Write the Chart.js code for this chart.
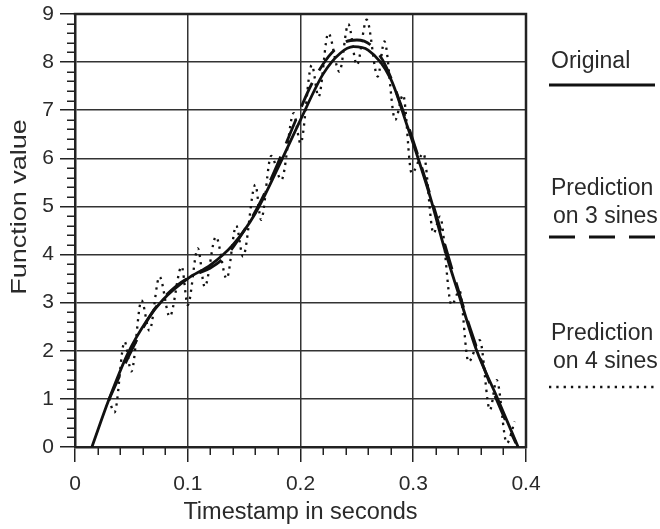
<!DOCTYPE html>
<html>
<head>
<meta charset="utf-8">
<script src="https://cdn.jsdelivr.net/npm/chart.js@4.4.1/dist/chart.umd.min.js"></script>
<style>
  html, body { margin: 0; padding: 0; background: #fff; }
  #c { display: block; }
</style>
</head>
<body>
<canvas id="c" width="660" height="529"></canvas>
<script>
// ---- data ----
const xTickLabels = ['0', '0.1', '0.2', '0.3', '0.4'];
const yTickLabels = ['0', '1', '2', '3', '4', '5', '6', '7', '8', '9'];

const originalX = [0.015, 0.030, 0.047, 0.064, 0.078, 0.100, 0.120, 0.140, 0.160, 0.180, 0.200, 0.220, 0.235, 0.247, 0.260, 0.280, 0.295, 0.305, 0.315, 0.328, 0.342, 0.356, 0.374, 0.393];
const originalY = [0.00, 0.98, 1.95, 2.64, 3.06, 3.50, 3.78, 4.20, 4.86, 5.80, 6.80, 7.75, 8.18, 8.32, 8.25, 7.65, 6.65, 5.95, 5.20, 4.10, 3.05, 2.02, 1.05, 0.00];

const sines3X = [0.030, 0.050, 0.070, 0.090, 0.105, 0.120, 0.135, 0.150, 0.165, 0.180, 0.195, 0.210, 0.225, 0.240, 0.250, 0.262, 0.275, 0.290, 0.305, 0.320, 0.335, 0.350, 0.365, 0.380, 0.391];
const sines3Y = [0.98, 2.00, 2.85, 3.35, 3.57, 3.72, 4.00, 4.50, 5.12, 5.90, 6.75, 7.55, 8.12, 8.42, 8.46, 8.36, 7.95, 7.05, 6.00, 4.85, 3.65, 2.50, 1.50, 0.65, 0.08];

const sines4X = [0.030, 0.035, 0.044, 0.050, 0.059, 0.066, 0.075, 0.084, 0.0946, 0.100, 0.109, 0.115, 0.125, 0.1345, 0.143, 0.149, 0.160, 0.165, 0.174, 0.183, 0.194, 0.200, 0.210, 0.216, 0.2247, 0.2345, 0.2424, 0.250, 0.2587, 0.2685, 0.2744, 0.284, 0.291, 0.2986, 0.309, 0.318, 0.3237, 0.334, 0.341, 0.349, 0.359, 0.368, 0.374, 0.383, 0.390];
const sines4Y = [1.00, 0.72, 2.19, 1.57, 3.05, 2.42, 3.54, 2.71, 3.75, 2.95, 4.13, 3.33, 4.37, 3.50, 4.60, 3.96, 5.45, 4.72, 6.05, 5.55, 6.94, 6.31, 7.94, 7.28, 8.60, 7.80, 8.79, 7.94, 8.88, 7.70, 8.43, 6.80, 7.32, 5.69, 6.10, 4.44, 4.79, 2.95, 3.25, 1.77, 2.22, 0.77, 1.39, 0.08, 0.53];

const seriesLabels = ['Original', 'Prediction\non 3 sines', 'Prediction\non 4 sines'];
const axisTitleX = 'Timestamp in seconds';
const axisTitleY = 'Function value';

const toPts = (xs, ys) => xs.map((x, i) => ({ x: x, y: ys[i] }));

const FONT = "'Liberation Sans', Arial, Helvetica, sans-serif";
const TEXT = '#2a2a2a';
const LINE = '#111';

const frameAndLegend = {
  id: 'frameAndLegend',
  afterDraw(chart) {
    const { ctx, chartArea: a, scales } = chart;
    const xs = scales.x, ys = scales.y;
    ctx.save();
    // top & right frame
    ctx.strokeStyle = '#222';
    ctx.lineWidth = 2.5;
    ctx.beginPath();
    ctx.moveTo(a.left - 1.25, a.top);
    ctx.lineTo(a.right, a.top);
    ctx.lineTo(a.right, a.bottom + 1.25);
    ctx.stroke();
    // minor ticks
    ctx.lineWidth = 1.5;
    ctx.beginPath();
    for (let i = 0; i <= 45; i++) {
      if (i % 5 === 0) continue;
      const py = Math.round(ys.getPixelForValue(i / 5)) + 0.25;
      ctx.moveTo(a.left - 8, py);
      ctx.lineTo(a.left, py);
    }
    for (let i = 0; i <= 20; i++) {
      if (i % 5 === 0) continue;
      const px = Math.round(xs.getPixelForValue(i * 0.02)) + 0.25;
      ctx.moveTo(px, a.bottom);
      ctx.lineTo(px, a.bottom + 8);
    }
    ctx.stroke();

    // y axis title (rotated, slightly widened as in the reference)
    ctx.save();
    ctx.translate(26, ys.getPixelForValue(4.99));
    ctx.rotate(-Math.PI / 2);
    ctx.scale(1.2, 1);
    ctx.fillStyle = TEXT;
    ctx.font = "22.5px " + FONT;
    ctx.textAlign = 'center';
    ctx.textBaseline = 'alphabetic';
    ctx.fillText(axisTitleY, 0, 0);
    ctx.restore();

    // legend (right side)
    const lx = 549, lw = 106;
    const entries = [
      { lines: seriesLabels[0].split('\n'), base: 68, sampleY: 85, ds: chart.data.datasets[0] },
      { lines: seriesLabels[1].split('\n'), base: 195, sampleY: 237, ds: chart.data.datasets[1] },
      { lines: seriesLabels[2].split('\n'), base: 340, sampleY: 387, ds: chart.data.datasets[2] }
    ];
    ctx.fillStyle = TEXT;
    ctx.font = "23px " + FONT;
    ctx.textBaseline = 'alphabetic';
    ctx.textAlign = 'left';
    entries.forEach(e => {
      e.lines.forEach((t, k) => {
        ctx.fillText(t, lx + (k === 0 ? 2 : 4), e.base + k * 28);
      });
      ctx.strokeStyle = LINE;
      ctx.lineWidth = e.ds.borderWidth;
      ctx.setLineDash(e.ds.borderDash || []);
      ctx.beginPath();
      ctx.moveTo(lx, e.sampleY);
      ctx.lineTo(lx + lw, e.sampleY);
      ctx.stroke();
    });
    ctx.setLineDash([]);
    ctx.restore();
  }
};

new Chart(document.getElementById('c'), {
  type: 'scatter',
  data: {
    datasets: [
      {
        label: seriesLabels[0],
        data: toPts(originalX, originalY),
        showLine: true, pointRadius: 0, borderColor: LINE, borderWidth: 2.8,
        cubicInterpolationMode: 'monotone', fill: false
      },
      {
        label: seriesLabels[1],
        data: toPts(sines3X, sines3Y),
        showLine: true, pointRadius: 0, borderColor: LINE, borderWidth: 2.8,
        borderDash: [26, 14], cubicInterpolationMode: 'monotone', fill: false
      },
      {
        label: seriesLabels[2],
        data: toPts(sines4X, sines4Y),
        showLine: true, pointRadius: 0, borderColor: LINE, borderWidth: 2.3,
        borderDash: [2.3, 5], cubicInterpolationMode: 'monotone', fill: false
      }
    ]
  },
  options: {
    responsive: false,
    animation: false,
    devicePixelRatio: 1,
    layout: { padding: { left: 0, top: 14, right: 134, bottom: 0 } },
    plugins: { legend: { display: false }, tooltip: { enabled: false } },
    scales: {
      x: {
        type: 'linear', min: 0, max: 0.4,
        afterFit(s) { s.height = 82; },
        ticks: {
          stepSize: 0.1, color: TEXT, padding: 10,
          font: { size: 21, family: FONT },
          callback: (v, i) => xTickLabels[i]
        },
        grid: { color: '#333', lineWidth: 1.5, tickLength: 15, tickColor: '#222', tickWidth: 1.5 },
        border: { display: true, color: '#222', width: 2.5 },
        title: { display: true, text: axisTitleX, color: TEXT, font: { size: 23.5, family: FONT }, padding: { top: 0, bottom: 2 } }
      },
      y: {
        type: 'linear', min: 0, max: 9,
        afterFit(s) { s.width = 75; },
        ticks: {
          stepSize: 1, color: TEXT, padding: 6,
          font: { size: 21, family: FONT, lineHeight: 0.3 },
          callback: (v, i) => yTickLabels[i]
        },
        grid: { color: '#333', lineWidth: 1.5, tickLength: 15, tickColor: '#222', tickWidth: 1.5 },
        border: { display: true, color: '#222', width: 2.5 },
        title: { display: false, text: axisTitleY }
      }
    }
  },
  plugins: [frameAndLegend]
});
</script>
</body>
</html>
